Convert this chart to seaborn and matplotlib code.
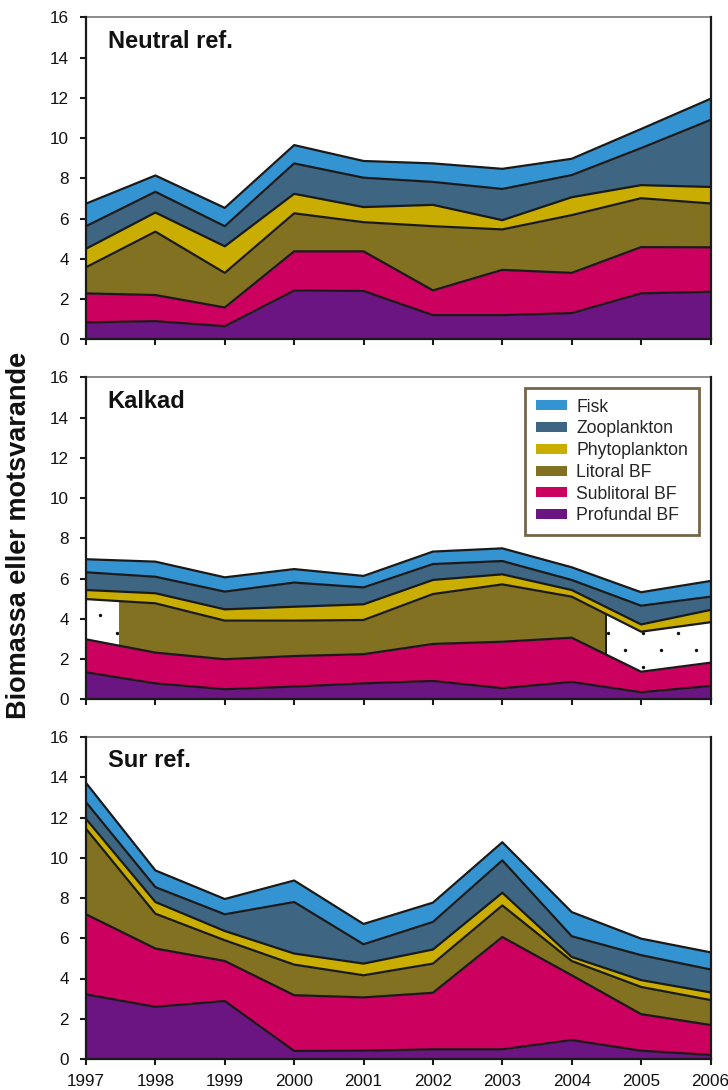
import numpy as np
import pandas as pd
import matplotlib
matplotlib.use("Agg")
import matplotlib.pyplot as plt
from matplotlib.patches import Patch, Rectangle
import seaborn as sns

# ---- data -------------------------------------------------------------
years = list(range(1997, 2007))
layer_names = ["Profundal BF", "Sublitoral BF", "Litoral BF",
               "Phytoplankton", "Zooplankton", "Fisk"]
layer_colors = ["#6a1582", "#cc005f", "#817121", "#c9ad00", "#3e6682", "#3494d2"]

panel_titles = ["Neutral ref.", "Kalkad", "Sur ref."]

# Neutral reference lake
neutral_profundal = [0.84, 0.90, 0.65, 2.42, 2.40, 1.20, 1.20, 1.30, 2.28, 2.36]
neutral_sublitoral = [1.44, 1.30, 0.93, 1.95, 1.97, 1.23, 2.25, 2.00, 2.30, 2.21]
neutral_litoral = [1.30, 3.15, 1.72, 1.89, 1.45, 3.19, 2.01, 2.87, 2.43, 2.18]
neutral_phyto = [0.92, 0.95, 1.32, 0.97, 0.75, 1.06, 0.46, 0.89, 0.65, 0.82]
neutral_zoo = [1.12, 1.03, 1.00, 1.51, 1.46, 1.14, 1.55, 1.10, 1.84, 3.33]
neutral_fisk = [1.12, 0.81, 0.91, 0.91, 0.83, 0.92, 1.00, 0.81, 0.95, 1.05]

# Limed lake
kalkad_profundal = [1.34, 0.79, 0.50, 0.63, 0.79, 0.91, 0.55, 0.86, 0.35, 0.66]
kalkad_sublitoral = [1.64, 1.53, 1.49, 1.52, 1.45, 1.84, 2.31, 2.20, 1.02, 1.16]
kalkad_litoral = [2.00, 2.45, 1.92, 1.76, 1.70, 2.48, 2.85, 2.04, 1.99, 2.01]
kalkad_phyto = [0.45, 0.50, 0.56, 0.69, 0.78, 0.70, 0.50, 0.33, 0.36, 0.61]
kalkad_zoo = [0.88, 0.82, 0.88, 1.20, 0.84, 0.79, 0.66, 0.50, 0.93, 0.66]
kalkad_fisk = [0.65, 0.75, 0.71, 0.67, 0.57, 0.62, 0.63, 0.63, 0.67, 0.78]
# litoral fauna sampled only within this span; outside it is left dotted
kalkad_litoral_span = (1997.47, 2004.5)

# Acid reference lake
sur_profundal = [3.21, 2.59, 2.88, 0.40, 0.41, 0.48, 0.48, 0.94, 0.41, 0.20]
sur_sublitoral = [3.98, 2.90, 1.99, 2.77, 2.65, 2.81, 5.58, 3.22, 1.82, 1.49]
sur_litoral = [4.25, 1.73, 1.03, 1.52, 1.10, 1.45, 1.57, 0.71, 1.35, 1.24]
sur_phyto = [0.49, 0.58, 0.46, 0.55, 0.58, 0.70, 0.63, 0.20, 0.34, 0.38]
sur_zoo = [0.83, 0.74, 0.83, 2.56, 0.96, 1.37, 1.61, 1.03, 1.24, 1.14]
sur_fisk = [0.96, 0.83, 0.76, 1.07, 1.01, 0.96, 0.90, 1.20, 0.82, 0.85]

y_ticks = [0, 2, 4, 6, 8, 10, 12, 14, 16]
y_label = "Biomassa eller motsvarande"

panels = [
    [neutral_profundal, neutral_sublitoral, neutral_litoral,
     neutral_phyto, neutral_zoo, neutral_fisk],
    [kalkad_profundal, kalkad_sublitoral, kalkad_litoral,
     kalkad_phyto, kalkad_zoo, kalkad_fisk],
    [sur_profundal, sur_sublitoral, sur_litoral,
     sur_phyto, sur_zoo, sur_fisk],
]

# ---- style ------------------------------------------------------------
sns.set_theme(style="ticks")
plt.rcParams["font.family"] = ["Liberation Sans", "DejaVu Sans"]
plt.rcParams["axes.linewidth"] = 1.5

fig = plt.figure(figsize=(7.28, 10.9), dpi=100)
W, H = 728.0, 1090.0
axes_px = [(17.3, 339.3), (377.3, 699.3), (737.0, 1059.0)]
left_px, right_px = 86.0, 710.5

for i, (layers, title) in enumerate(zip(panels, panel_titles)):
    top, bottom = axes_px[i]
    ax = fig.add_axes([left_px / W, 1 - bottom / H,
                       (right_px - left_px) / W, (bottom - top) / H])

    df = pd.DataFrame(dict(zip(layer_names, layers)), index=years)
    tops = df.cumsum(axis=1)

    polys = ax.stackplot(df.index, *[df[c] for c in layer_names],
                         colors=layer_colors, linewidth=0, zorder=1)

    if title == "Kalkad":
        lo, hi = kalkad_litoral_span
        litoral_poly = polys[2]
        litoral_poly.set_clip_path(
            Rectangle((lo, -1), hi - lo, 20, transform=ax.transData))
        # sparse dot pattern in the unsampled part of the litoral band
        gx, gy = [], []
        for k, yy in enumerate(np.arange(3.31 - 0.86 * 5, 9, 0.86)):
            shift = 0.2525 if (k % 2) else 0.0
            for xx in np.arange(1997.2 - 0.505 + shift, 2006.6, 0.505):
                gx.append(xx)
                gy.append(yy)
        dots = ax.scatter(gx, gy, s=6, color="#111111", linewidths=0,
                          zorder=0.8)
        dots.set_clip_path(litoral_poly.get_paths()[0], ax.transData)
        y0 = np.interp(hi, years, tops["Sublitoral BF"])
        y1 = np.interp(hi, years, tops["Litoral BF"])
        ax.vlines(hi, y0, y1, color="#1a1a1a", lw=1.4, zorder=3)

    # black outlines between stacked layers
    long = (tops.reset_index()
                .melt(id_vars="index", var_name="layer", value_name="level")
                .rename(columns={"index": "year"}))
    sns.lineplot(data=long, x="year", y="level", units="layer",
                 estimator=None, color="#1a1a1a", lw=1.6, legend=False,
                 ax=ax, zorder=3)

    ax.set_xlim(1997, 2006)
    ax.set_ylim(0, 16)
    ax.set_xticks(years)
    ax.set_yticks(y_ticks)
    ax.set_xlabel("")
    ax.set_ylabel("")
    ax.tick_params(axis="both", direction="out", length=4.5, width=1.5,
                   color="#1a1a1a", labelsize=12.3, labelcolor="#111111")
    ax.tick_params(axis="y", pad=8)
    ax.tick_params(axis="x", pad=6)
    if i < 2:
        ax.tick_params(axis="x", labelbottom=False)

    for side in ["left", "bottom", "right"]:
        ax.spines[side].set_color("#1a1a1a")
        ax.spines[side].set_linewidth(1.6)
        ax.spines[side].set_zorder(4)
    ax.spines["top"].set_color("#777777")
    ax.spines["top"].set_linewidth(1.2)

    ax.text(0.035, 0.906, title, transform=ax.transAxes, fontsize=17,
            fontweight="bold", ha="left", va="baseline", color="#111111")

    if title == "Kalkad":
        handles = [Patch(facecolor=c, edgecolor="none", label=n)
                   for n, c in zip(layer_names[::-1], layer_colors[::-1])]
        leg = ax.legend(handles=handles, loc="upper right",
                        bbox_to_anchor=(0.981, 0.967), borderaxespad=0,
                        fontsize=12.7, frameon=True, fancybox=False,
                        framealpha=1, edgecolor="#75654a",
                        handlelength=1.8, handleheight=0.5,
                        handletextpad=0.5, labelspacing=0.27,
                        borderpad=0.6)
        leg.get_frame().set_linewidth(2)
        leg.set_zorder(5)

fig.text(19 / W, 1 - 535 / H, y_label, rotation=90, ha="center",
         va="center", fontsize=19.5, fontweight="bold", color="#111111")

fig.savefig("out.png", dpi=100)
